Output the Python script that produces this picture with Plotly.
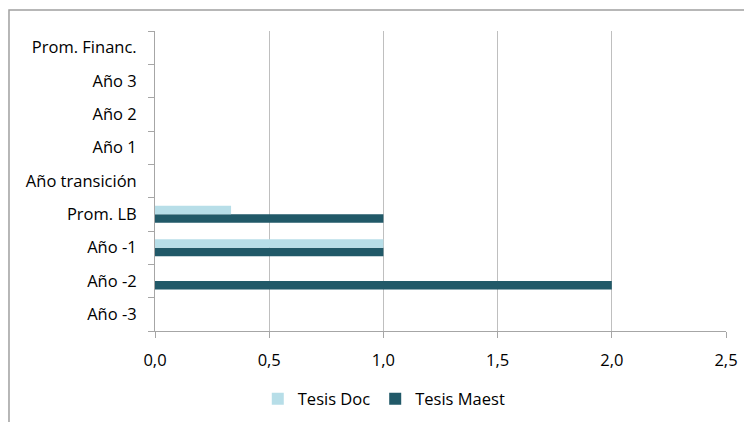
import plotly.graph_objects as go

# categories bottom -> top
categorias = ["Año -3", "Año -2", "Año -1", "Prom. LB", "Año transición",
              "Año 1", "Año 2", "Año 3", "Prom. Financ."]
tesis_doc = [0, 0, 1.0, 0.333, 0, 0, 0, 0, 0]
tesis_maest = [0, 2.0, 1.0, 1.0, 0, 0, 0, 0, 0]
x_ticks = [0, 0.5, 1.0, 1.5, 2.0, 2.5]

fig = go.Figure()
# maest first so it sits at the bottom of each pair
fig.add_trace(go.Bar(y=categorias, x=tesis_maest, orientation="h",
                     name="Tesis Maest", marker=dict(color="#215968", line=dict(width=0)),
                     legendrank=2))
fig.add_trace(go.Bar(y=categorias, x=tesis_doc, orientation="h",
                     name="Tesis Doc", marker=dict(color="#B7DEE8", line=dict(width=0)),
                     legendrank=1))

fig.update_layout(
    width=752, height=422,
    barmode="group", bargap=0.49, bargroupgap=0,
    separators=",.",
    font=dict(family="Open Sans, sans-serif", size=16.5, color="#000000"),
    plot_bgcolor="white", paper_bgcolor="white",
    margin=dict(l=147, r=34, t=23, b=99),
    showlegend=True,
    legend=dict(orientation="h", x=0.18, xanchor="left", y=-0.227, yanchor="middle",
                font=dict(size=16.5), itemwidth=30),
    xaxis=dict(range=[0, 2.5], tickvals=x_ticks, tickformat=".1f",
               showgrid=True, gridcolor="#BFBFBF", gridwidth=1,
               showline=True, linecolor="#A6A6A6", linewidth=1,
               ticks="outside", ticklen=6, tickcolor="#A6A6A6",
               ticklabelstandoff=8,
               zeroline=False, fixedrange=True),
    yaxis=dict(categoryorder="array", categoryarray=categorias,
               showgrid=False, showline=True, linecolor="#A6A6A6", linewidth=1,
               ticks="outside", ticklen=6, tickcolor="#A6A6A6",
               tickson="boundaries", ticklabelstandoff=14, fixedrange=True),
)

# outer chart border (extends off the picture on the right and bottom)
fig.add_shape(type="rect", xref="paper", yref="paper",
              x0=-0.2557, y0=-0.5, x1=1.2, y1=1.07,
              line=dict(color="#A0A0A0", width=1.5), layer="below")

fig.write_html("out.html")
